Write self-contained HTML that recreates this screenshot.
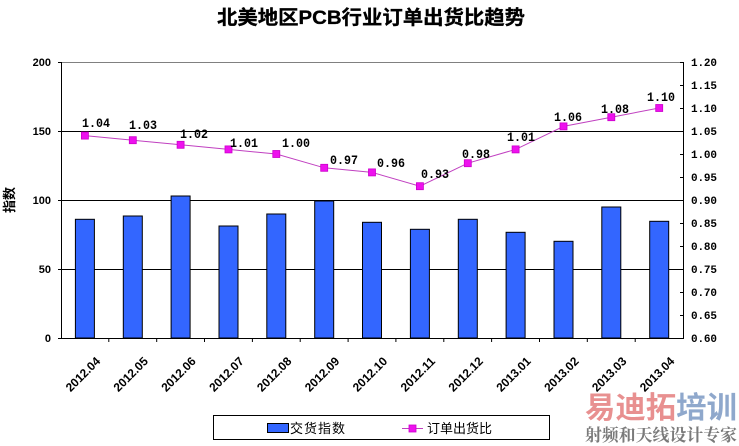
<!DOCTYPE html>
<html><head><meta charset="utf-8"><style>
html,body{margin:0;padding:0;background:#fff;}
svg{display:block;}
</style></head><body>
<svg width="739" height="446" viewBox="0 0 739 446" xmlns="http://www.w3.org/2000/svg">
<rect width="739" height="446" fill="#fff"/>
<!-- Title -->
<text x="217" y="24" font-family="Liberation Sans, Noto Sans CJK SC, sans-serif" font-weight="bold" font-size="19.5" textLength="308" lengthAdjust="spacingAndGlyphs" fill="#000" stroke="#000" stroke-width="0.3">北美地区PCB行业订单出货比趋势</text>

<!-- Plot frame -->
<line x1="61" y1="62.5" x2="683" y2="62.5" stroke="#808080" stroke-width="1"/>
<line x1="61" y1="131.5" x2="683" y2="131.5" stroke="#000" stroke-width="1"/>
<line x1="61" y1="200.5" x2="683" y2="200.5" stroke="#000" stroke-width="1"/>
<line x1="61" y1="269.5" x2="683" y2="269.5" stroke="#000" stroke-width="1"/>

<!-- Bars -->
<g fill="#3366FF" stroke="#000" stroke-width="1">
<rect x="75.4" y="219.3" width="19" height="118.7"/>
<rect x="123.3" y="216" width="19" height="122"/>
<rect x="171.1" y="196" width="19" height="142"/>
<rect x="219" y="226" width="19" height="112"/>
<rect x="266.8" y="214" width="19" height="124"/>
<rect x="314.7" y="201" width="19" height="137"/>
<rect x="362.5" y="222.3" width="19" height="115.7"/>
<rect x="410.4" y="229.3" width="19" height="108.7"/>
<rect x="458.3" y="219.3" width="19" height="118.7"/>
<rect x="506.1" y="232.3" width="19" height="105.7"/>
<rect x="554" y="241.3" width="19" height="96.7"/>
<rect x="601.8" y="207" width="19" height="131"/>
<rect x="649.7" y="221.3" width="19" height="116.7"/>
</g>

<!-- Axes -->
<line x1="61.5" y1="62" x2="61.5" y2="338" stroke="#000" stroke-width="1"/>
<line x1="683.5" y1="62" x2="683.5" y2="338" stroke="#000" stroke-width="1"/>
<line x1="61" y1="338.5" x2="684" y2="338.5" stroke="#000" stroke-width="1"/>

<!-- left ticks -->
<g stroke="#000" stroke-width="1">
<line x1="58" y1="62.5" x2="61" y2="62.5"/>
<line x1="58" y1="131.5" x2="61" y2="131.5"/>
<line x1="58" y1="200.5" x2="61" y2="200.5"/>
<line x1="58" y1="269.5" x2="61" y2="269.5"/>
<line x1="58" y1="338.5" x2="61" y2="338.5"/>
</g>
<!-- right ticks -->
<g stroke="#000" stroke-width="1">
<line x1="680" y1="62.5" x2="683" y2="62.5"/>
<line x1="680" y1="85.5" x2="683" y2="85.5"/>
<line x1="680" y1="108.5" x2="683" y2="108.5"/>
<line x1="680" y1="131.5" x2="683" y2="131.5"/>
<line x1="680" y1="154.5" x2="683" y2="154.5"/>
<line x1="680" y1="177.5" x2="683" y2="177.5"/>
<line x1="680" y1="200.5" x2="683" y2="200.5"/>
<line x1="680" y1="223.5" x2="683" y2="223.5"/>
<line x1="680" y1="246.5" x2="683" y2="246.5"/>
<line x1="680" y1="269.5" x2="683" y2="269.5"/>
<line x1="680" y1="292.5" x2="683" y2="292.5"/>
<line x1="680" y1="315.5" x2="683" y2="315.5"/>
</g>
<!-- x ticks -->
<g stroke="#000" stroke-width="1">
<line x1="108.8" y1="338" x2="108.8" y2="342"/>
<line x1="156.7" y1="338" x2="156.7" y2="342"/>
<line x1="204.5" y1="338" x2="204.5" y2="342"/>
<line x1="252.4" y1="338" x2="252.4" y2="342"/>
<line x1="300.2" y1="338" x2="300.2" y2="342"/>
<line x1="348.1" y1="338" x2="348.1" y2="342"/>
<line x1="395.9" y1="338" x2="395.9" y2="342"/>
<line x1="443.8" y1="338" x2="443.8" y2="342"/>
<line x1="491.6" y1="338" x2="491.6" y2="342"/>
<line x1="539.5" y1="338" x2="539.5" y2="342"/>
<line x1="587.3" y1="338" x2="587.3" y2="342"/>
<line x1="635.2" y1="338" x2="635.2" y2="342"/>
</g>

<!-- Left axis labels -->
<g font-family="Liberation Sans, sans-serif" font-weight="bold" font-size="11" text-anchor="end" fill="#000">
<text x="51" y="66">200</text>
<text x="51" y="135">150</text>
<text x="51" y="204">100</text>
<text x="51" y="273">50</text>
<text x="51" y="342">0</text>
</g>
<!-- Right axis labels -->
<g font-family="Liberation Mono, monospace" font-weight="bold" font-size="11" fill="#000">
<text x="691" y="66" textLength="26">1.20</text>
<text x="691" y="89" textLength="26">1.15</text>
<text x="691" y="112" textLength="26">1.10</text>
<text x="691" y="135" textLength="26">1.05</text>
<text x="691" y="158" textLength="26">1.00</text>
<text x="691" y="181" textLength="26">0.95</text>
<text x="691" y="204" textLength="26">0.90</text>
<text x="691" y="227" textLength="26">0.85</text>
<text x="691" y="250" textLength="26">0.80</text>
<text x="691" y="273" textLength="26">0.75</text>
<text x="691" y="296" textLength="26">0.70</text>
<text x="691" y="319" textLength="26">0.65</text>
<text x="691" y="342" textLength="26">0.60</text>
</g>

<!-- Y axis title -->
<text transform="translate(14,200) rotate(-90)" text-anchor="middle" font-family="Liberation Sans, Noto Sans CJK SC, sans-serif" font-weight="bold" font-size="13" fill="#000">指数</text>

<!-- Line series -->
<polyline fill="none" stroke="#C040C0" stroke-width="1" points="84.9,135.6 132.8,140.2 180.6,144.8 228.5,149.4 276.3,154 324.2,167.8 372,172.4 419.9,186.2 467.8,163.2 515.6,149.4 563.5,126.4 611.3,117.2 659.2,108"/>
<g fill="#EE11EE" stroke="#CC00CC" stroke-width="0.8">
<rect x="81.4" y="132.1" width="7" height="7"/>
<rect x="129.3" y="136.7" width="7" height="7"/>
<rect x="177.1" y="141.3" width="7" height="7"/>
<rect x="225" y="145.9" width="7" height="7"/>
<rect x="272.8" y="150.5" width="7" height="7"/>
<rect x="320.7" y="164.3" width="7" height="7"/>
<rect x="368.5" y="168.9" width="7" height="7"/>
<rect x="416.4" y="182.7" width="7" height="7"/>
<rect x="464.3" y="159.7" width="7" height="7"/>
<rect x="512.1" y="145.9" width="7" height="7"/>
<rect x="560" y="122.9" width="7" height="7"/>
<rect x="607.8" y="113.7" width="7" height="7"/>
<rect x="655.7" y="104.5" width="7" height="7"/>
</g>
<!-- Data labels -->
<g font-family="Liberation Mono, monospace" font-weight="bold" font-size="13" fill="#000">
<text x="82" y="127" textLength="28" lengthAdjust="spacingAndGlyphs">1.04</text>
<text x="129" y="129" textLength="28" lengthAdjust="spacingAndGlyphs">1.03</text>
<text x="180" y="138" textLength="28" lengthAdjust="spacingAndGlyphs">1.02</text>
<text x="230" y="147" textLength="28" lengthAdjust="spacingAndGlyphs">1.01</text>
<text x="282" y="147" textLength="28" lengthAdjust="spacingAndGlyphs">1.00</text>
<text x="330" y="164" textLength="28" lengthAdjust="spacingAndGlyphs">0.97</text>
<text x="377" y="167" textLength="28" lengthAdjust="spacingAndGlyphs">0.96</text>
<text x="421" y="178" textLength="28" lengthAdjust="spacingAndGlyphs">0.93</text>
<text x="462" y="158" textLength="28" lengthAdjust="spacingAndGlyphs">0.98</text>
<text x="507" y="141" textLength="28" lengthAdjust="spacingAndGlyphs">1.01</text>
<text x="554" y="121" textLength="28" lengthAdjust="spacingAndGlyphs">1.06</text>
<text x="601" y="113" textLength="28" lengthAdjust="spacingAndGlyphs">1.08</text>
<text x="647" y="101" textLength="28" lengthAdjust="spacingAndGlyphs">1.10</text>
</g>

<!-- X axis labels -->
<g font-family="Liberation Sans, sans-serif" font-weight="bold" font-size="12" fill="#000" text-anchor="end">
<text transform="translate(101,362) rotate(-45)" textLength="43" lengthAdjust="spacingAndGlyphs">2012.04</text>
<text transform="translate(148.8,362) rotate(-45)" textLength="43" lengthAdjust="spacingAndGlyphs">2012.05</text>
<text transform="translate(196.6,362) rotate(-45)" textLength="43" lengthAdjust="spacingAndGlyphs">2012.06</text>
<text transform="translate(244.5,362) rotate(-45)" textLength="43" lengthAdjust="spacingAndGlyphs">2012.07</text>
<text transform="translate(292.3,362) rotate(-45)" textLength="43" lengthAdjust="spacingAndGlyphs">2012.08</text>
<text transform="translate(340.2,362) rotate(-45)" textLength="43" lengthAdjust="spacingAndGlyphs">2012.09</text>
<text transform="translate(388,362) rotate(-45)" textLength="43" lengthAdjust="spacingAndGlyphs">2012.10</text>
<text transform="translate(435.9,362) rotate(-45)" textLength="43" lengthAdjust="spacingAndGlyphs">2012.11</text>
<text transform="translate(483.8,362) rotate(-45)" textLength="43" lengthAdjust="spacingAndGlyphs">2012.12</text>
<text transform="translate(531.6,362) rotate(-45)" textLength="43" lengthAdjust="spacingAndGlyphs">2013.01</text>
<text transform="translate(579.5,362) rotate(-45)" textLength="43" lengthAdjust="spacingAndGlyphs">2013.02</text>
<text transform="translate(627.3,362) rotate(-45)" textLength="43" lengthAdjust="spacingAndGlyphs">2013.03</text>
<text transform="translate(675.2,362) rotate(-45)" textLength="43" lengthAdjust="spacingAndGlyphs">2013.04</text>
</g>

<!-- Legend -->
<rect x="213.5" y="415.5" width="336" height="24" fill="#fff" stroke="#000" stroke-width="1"/>
<rect x="267.5" y="423.5" width="21" height="9" fill="#3366FF" stroke="#000" stroke-width="1"/>
<text x="290" y="433" font-family="Liberation Sans, Noto Sans CJK SC, sans-serif" font-size="13" textLength="55" fill="#000">交货指数</text>
<line x1="402" y1="428.5" x2="423" y2="428.5" stroke="#C040C0" stroke-width="1"/>
<rect x="409" y="425" width="7" height="7" fill="#EE11EE" stroke="#CC00CC" stroke-width="0.8"/>
<text x="427" y="433" font-family="Liberation Sans, Noto Sans CJK SC, sans-serif" font-size="13" textLength="65" fill="#000">订单出货比</text>

<!-- Watermark -->
<text x="585" y="418" font-family="Liberation Sans, Noto Sans CJK SC, sans-serif" font-weight="bold" font-size="30" textLength="152" lengthAdjust="spacingAndGlyphs"><tspan fill="#E89090">易迪拓</tspan><tspan fill="#8FA8CC">培训</tspan></text>
<text x="585" y="441" font-family="Liberation Serif, Noto Serif CJK SC, serif" font-weight="bold" font-size="17" textLength="152" lengthAdjust="spacingAndGlyphs" fill="#7A7A7A">射频和天线设计专家</text>
</svg>
</body></html>
